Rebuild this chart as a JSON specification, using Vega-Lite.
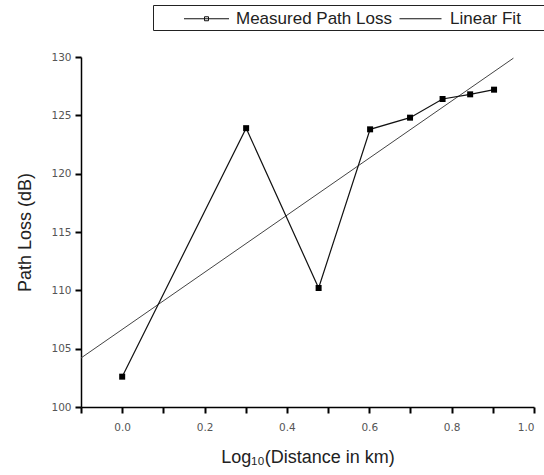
{
  "$schema": "https://vega.github.io/schema/vega-lite/v6.json",
  "width": 453,
  "height": 350,
  "autosize": {"type": "none"},
  "padding": {"left": 81, "top": 57, "right": 10, "bottom": 68},
  "background": "white",
  "config": {
    "view": {"stroke": null},
    "font": "Liberation Sans",
    "axis": {
      "grid": false,
      "ticks": true,
      "domainColor": "black",
      "domainWidth": 1.5,
      "tickColor": "black",
      "tickWidth": 2,
      "tickSize": 6,
      "tickOpacity": 1,
      "domainOpacity": 1,
      "labelColor": "#555",
      "labelFont": "DejaVu Sans",
      "labelFontSize": 10.5,
      "titleFont": "Liberation Sans",
      "titleFontSize": 18,
      "titleFontWeight": "normal",
      "titleColor": "#222"
    }
  },
  "datasets": {
    "measured": [
      {"logd": 0.0, "loss": 102.6},
      {"logd": 0.301, "loss": 123.9},
      {"logd": 0.477, "loss": 110.2},
      {"logd": 0.602, "loss": 123.8},
      {"logd": 0.699, "loss": 124.8},
      {"logd": 0.778, "loss": 126.4},
      {"logd": 0.845, "loss": 126.8},
      {"logd": 0.903, "loss": 127.2}
    ],
    "fit": [
      {"logd": -0.1, "loss": 104.2},
      {"logd": 0.95, "loss": 129.9}
    ]
  },
  "layer": [
    {
      "data": {"name": "fit"},
      "mark": {"type": "line", "color": "#444", "strokeWidth": 1},
      "encoding": {
        "x": {
          "field": "logd",
          "type": "quantitative",
          "scale": {"domain": [-0.1, 1.0], "nice": false, "zero": false},
          "axis": {
            "title": "Log₁₀(Distance in km)",
            "values": [-0.1, 0, 0.1, 0.2, 0.3, 0.4, 0.5, 0.6, 0.7, 0.8, 0.9, 1.0],
            "labelExpr": "(datum.value >= 0 && abs(round(datum.value * 10)) % 2 == 0) ? format(datum.value, '.1f') : ''",
            "labelPadding": 9,
            "titlePadding": 16
          }
        },
        "y": {
          "field": "loss",
          "type": "quantitative",
          "scale": {"domain": [100, 130], "nice": false, "zero": false},
          "axis": {
            "title": "Path Loss (dB)",
            "values": [100, 102.5, 105, 107.5, 110, 112.5, 115, 117.5, 120, 122.5, 125, 127.5, 130],
            "labelExpr": "datum.value % 5 == 0 ? datum.value : ''",
            "labelPadding": 4,
            "titlePadding": 16
          }
        }
      }
    },
    {
      "data": {"name": "measured"},
      "mark": {
        "type": "line",
        "color": "#111",
        "strokeWidth": 1.2,
        "point": {"shape": "square", "size": 36, "filled": true, "color": "#000"}
      },
      "encoding": {
        "x": {"field": "logd", "type": "quantitative"},
        "y": {"field": "loss", "type": "quantitative"}
      }
    },
    {
      "data": {"name": "measured"},
      "transform": [{"filter": "false"}],
      "mark": {"type": "point", "filled": false, "color": "#111", "strokeWidth": 1, "opacity": 1},
      "encoding": {
        "x": {"field": "logd", "type": "quantitative"},
        "y": {"field": "loss", "type": "quantitative"},
        "shape": {
          "field": "series",
          "type": "nominal",
          "scale": {
            "domain": ["Measured Path Loss", "Linear Fit", " "],
            "range": [
              "M-2.25,0H2.25M-0.2,-0.2H0.2V0.2H-0.2Z",
              "M-2.1,0H2.1",
              "M0,0"
            ]
          },
          "legend": {
            "orient": "none",
            "legendX": 72,
            "legendY": -52,
            "direction": "horizontal",
            "title": " ",
            "titleOrient": "left",
            "titlePadding": 40,
            "titleFontSize": 16,
            "padding": 3,
            "strokeColor": "#222",
            "symbolSize": 400,
            "symbolStrokeColor": "#111",
            "symbolStrokeWidth": 1,
            "symbolFillColor": "#000",
            "symbolOpacity": 1,
            "labelFont": "Liberation Sans",
            "labelFontSize": 17,
            "labelColor": "#222",
            "labelOffset": 19,
            "columnPadding": 5
          }
        }
      }
    }
  ]
}
